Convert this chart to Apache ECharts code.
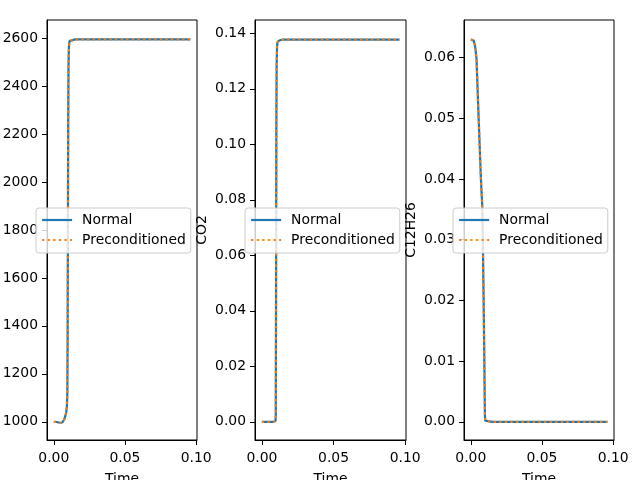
<!DOCTYPE html>
<html>
<head>
<meta charset="utf-8">
<script src="https://cdn.jsdelivr.net/npm/echarts@6.0.0/dist/echarts.min.js"></script>
<style>html,body{margin:0;padding:0;background:#fff}#c{width:640px;height:480px}</style>
</head>
<body>
<div id="c"></div>
<script>
// ---- data ----
var seriesNames = ['Normal', 'Preconditioned'];
var yNames = ['', 'CO2', 'C12H26'];
var xTicks = [0, 0.05, 0.10];
var tempTicks = [1000, 1200, 1400, 1600, 1800, 2000, 2200, 2400, 2600];
var co2Ticks = [0, 0.02, 0.04, 0.06, 0.08, 0.10, 0.12, 0.14];
var fuelTicks = [0, 0.01, 0.02, 0.03, 0.04, 0.05, 0.06];

var tTemp = [0, 0.002, 0.004, 0.005, 0.006, 0.007, 0.0075, 0.008, 0.0087, 0.0092, 0.0095, 0.0097, 0.0099, 0.0101, 0.0103, 0.0106, 0.011, 0.012,
             0.015, 0.02, 0.03, 0.04, 0.05, 0.06, 0.07, 0.08, 0.09, 0.096];
var temp  = [1000, 999, 996, 995, 997, 1005, 1012, 1020, 1038, 1065, 1120, 1350, 1800, 2250, 2480, 2565, 2588, 2594,
             2595, 2595, 2595, 2595, 2595, 2595, 2595, 2595, 2595, 2595];

var tCO2 = [0, 0.002, 0.004, 0.006, 0.008, 0.009, 0.0095, 0.0097, 0.0099, 0.0101, 0.0103, 0.0106, 0.011, 0.0118, 0.013,
            0.015, 0.02, 0.03, 0.04, 0.05, 0.06, 0.07, 0.08, 0.09, 0.096];
var co2  = [0, 0, 0, 0, 0, 0.0001, 0.0003, 0.002, 0.045, 0.105, 0.128, 0.1352, 0.137, 0.1375, 0.1376,
            0.1377, 0.1377, 0.1377, 0.1377, 0.1377, 0.1377, 0.1377, 0.1377, 0.1377, 0.1377];

var tFuel = [0, 0.001, 0.002, 0.003, 0.004, 0.005, 0.006, 0.007, 0.0075, 0.008, 0.0085, 0.009, 0.0094, 0.0097, 0.0099, 0.0101, 0.0104, 0.011,
             0.015, 0.02, 0.03, 0.04, 0.05, 0.06, 0.07, 0.08, 0.09, 0.096];
var fuel  = [0.0630, 0.0630, 0.0628, 0.0619, 0.0598, 0.0531, 0.0468, 0.0405, 0.0380, 0.0358, 0.0290, 0.0200, 0.0120, 0.0050, 0.0012, 0.0002, 0, 0,
             0, 0, 0, 0, 0, 0, 0, 0, 0, 0];

// ---- chart ----
function pairs(t, v) { return t.map(function (x, i) { return [x, v[i]]; }); }
var FONT = 'DejaVu Sans';
var FS = 13.9;
var grids = [
  {left: 47, top: 20, width: 150, height: 420},
  {left: 255, top: 20, width: 151, height: 420},
  {left: 464, top: 20, width: 150, height: 420}
];
grids.forEach(function (g) {
  g.show = true; g.borderColor = '#000'; g.borderWidth = 1; g.backgroundColor = 'transparent';
  g.containLabel = false; g.outerBoundsMode = 'none';
});

var yRanges = [[924, 2676], [-0.00655, 0.1448], [-0.003, 0.0662]];
var yTickSets = [tempTicks, co2Ticks, fuelTicks];
var yFmt = [function (v) { return String(Math.round(v)); }, function (v) { return v.toFixed(2); }, function (v) { return v.toFixed(2); }];
var dataSets = [pairs(tTemp, temp), pairs(tCO2, co2), pairs(tFuel, fuel)];

var xAxes = [], yAxes = [], series = [], legends = [];
var legendLefts = [36, 245, 453];
for (var i = 0; i < 3; i++) {
  xAxes.push({
    type: 'value', gridIndex: i, min: -0.0048, max: 0.1006,
    name: 'Time', nameLocation: 'middle', nameGap: 32,
    nameTextStyle: {fontFamily: FONT, fontSize: FS, color: '#000'},
    axisLine: {show: true, onZero: false, lineStyle: {color: '#000', width: 1}},
    axisTick: {show: true, length: 5, lineStyle: {color: '#000'}, customValues: xTicks},
    axisLabel: {fontFamily: FONT, fontSize: FS, color: '#000', margin: 11, customValues: xTicks,
      formatter: function (v) { return v.toFixed(2); }},
    splitLine: {show: false}
  });
  yAxes.push({
    type: 'value', gridIndex: i, min: yRanges[i][0], max: yRanges[i][1],
    name: yNames[i], nameLocation: 'middle', nameGap: 46,
    nameTextStyle: {fontFamily: FONT, fontSize: FS, color: '#000'},
    axisLine: {show: true, onZero: false, lineStyle: {color: '#000', width: 1}},
    axisTick: {show: true, length: 5, lineStyle: {color: '#000'}, customValues: yTickSets[i]},
    axisLabel: {fontFamily: FONT, fontSize: FS, color: '#000', margin: 9, customValues: yTickSets[i],
      formatter: yFmt[i]},
    splitLine: {show: false}
  });
  series.push({
    name: seriesNames[0], type: 'line', xAxisIndex: i, yAxisIndex: i, data: dataSets[i],
    symbol: 'none', lineStyle: {color: '#1f77b4', width: 2.2}, itemStyle: {color: '#1f77b4'}, z: 2, animation: false
  });
  series.push({
    name: seriesNames[1], type: 'line', xAxisIndex: i, yAxisIndex: i, data: dataSets[i],
    symbol: 'none', lineStyle: {color: '#ff7f0e', width: 2.2, type: [2.2, 3.4]}, itemStyle: {color: '#ff7f0e'}, z: 3, animation: false
  });
  legends.push({
    data: seriesNames, left: legendLefts[i], top: 208, orient: 'vertical',
    itemWidth: 30, itemHeight: 14, itemGap: 6, padding: [5, 5, 6, 5],
    backgroundColor: 'rgba(255,255,255,0.8)', borderColor: '#cccccc', borderWidth: 1, borderRadius: 3,
    selectedMode: false,
    itemStyle: {opacity: 0},
    lineStyle: {width: 2.2},
    textStyle: {fontFamily: FONT, fontSize: FS, color: '#000', padding: [0, 0, 0, 5]}
  });
}

var chart = echarts.init(document.getElementById('c'), null, {renderer: 'canvas'});
chart.setOption({
  animation: false,
  backgroundColor: '#fff',
  grid: grids, xAxis: xAxes, yAxis: yAxes, series: series, legend: legends
});
</script>
</body>
</html>
